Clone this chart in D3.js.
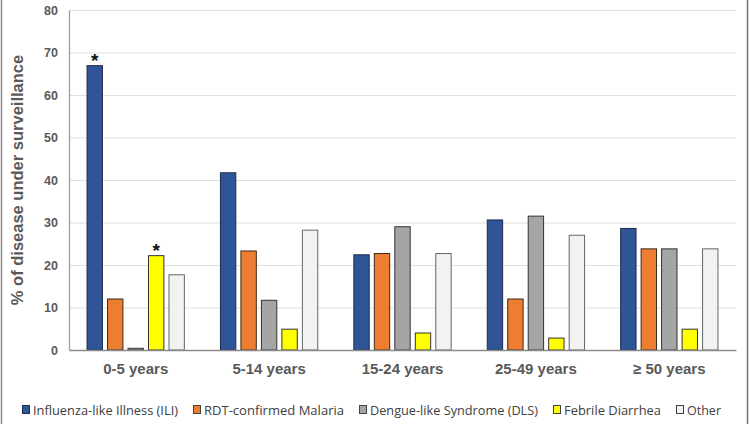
<!DOCTYPE html>
<html><head><meta charset="utf-8">
<script src="https://cdn.jsdelivr.net/npm/d3@7"></script>
<style>
body{margin:0;background:#fff;}
svg{display:block;}
</style></head>
<body>
<svg id="chart" width="749" height="424"></svg>
<script>
const categories = ["0-5 years","5-14 years","15-24 years","25-49 years","\u2265 50 years"];
const seriesNames = ["Influenza-like Illness (ILI)","RDT-confirmed Malaria","Dengue-like Syndrome (DLS)","Febrile Diarrhea","Other"];
const ili      = [66.9, 41.7, 22.4, 30.6, 28.6];
const malaria  = [12.0, 23.3, 22.7, 12.0, 23.8];
const dls      = [0.4, 11.7, 29.0, 31.5, 23.8];
const diarrhea = [22.2, 4.9, 4.0, 2.8, 4.9];
const other    = [17.7, 28.2, 22.7, 27.0, 23.8];
const yTicks = [0,10,20,30,40,50,60,70,80];
const significant = [["0-5 years","Influenza-like Illness (ILI)"],["0-5 years","Febrile Diarrhea"]];

const seriesValues = [ili, malaria, dls, diarrhea, other];
const fills   = ["#2F5597","#ED7D31","#A5A5A5","#FFFF00","#F2F2F2"];
const strokes = ["#1c2c4c","#3a2a1a","#333333","#333333","#666666"];

const svg = d3.select("#chart");
const m = {left:69, right:13, top:10, bottom:74};
const W = 749, H = 424;
const x0 = d3.scaleBand().domain(categories).range([m.left, W-m.right]).paddingInner(0.263).paddingOuter(0.1315);
const x1 = d3.scaleBand().domain(seriesNames).range([0, x0.bandwidth()]).paddingInner(0.2).paddingOuter(0);
const y = d3.scaleLinear().domain([0,80]).range([H-m.bottom, m.top]);

// border lines
svg.append("line").attr("x1",1.5).attr("x2",1.5).attr("y1",0).attr("y2",H).attr("stroke","#8c8c8c").attr("stroke-width",1.5);
svg.append("line").attr("x1",747.5).attr("x2",747.5).attr("y1",0).attr("y2",H).attr("stroke","#707070").attr("stroke-width",1.5);

// gridlines
svg.append("g").selectAll("line").data(yTicks.filter(d=>d>0)).join("line")
  .attr("x1",m.left).attr("x2",W-m.right)
  .attr("y1",d=>y(d)+0.5).attr("y2",d=>y(d)+0.5)
  .attr("stroke","#e0e0e0").attr("stroke-width",1.2);

// y axis
const yAxis = svg.append("g").attr("transform",`translate(${m.left},0)`)
  .call(d3.axisLeft(y).tickValues(yTicks).tickSize(0).tickPadding(11));
yAxis.select(".domain").attr("stroke","#9a9a9a").attr("stroke-width",1.2);
yAxis.selectAll("text").attr("font-family","Liberation Sans, Arial, sans-serif").attr("font-weight","bold")
  .attr("font-size","12.5px").attr("fill","#595959");

// bars
const groups = svg.append("g").selectAll("g").data(categories).join("g")
  .attr("transform",d=>`translate(${x0(d)},0)`);
groups.selectAll("rect").data((c,ci)=>seriesNames.map((s,si)=>({c,s,si,v:seriesValues[si][ci]}))).join("rect")
  .attr("x",d=>x1(d.s)+0.5).attr("width",x1.bandwidth()-1)
  .attr("y",d=>y(d.v)).attr("height",d=>y(0)-y(d.v))
  .attr("fill",d=>fills[d.si]).attr("stroke",d=>strokes[d.si]).attr("stroke-width",1);

// x axis
const xAxis = svg.append("g").attr("transform",`translate(0,${y(0)})`)
  .call(d3.axisBottom(x0).tickSize(0).tickPadding(13));
xAxis.select(".domain").attr("stroke","#8a8a8a").attr("stroke-width",1.5);
xAxis.selectAll("text").attr("font-family","Liberation Sans, Arial, sans-serif").attr("font-weight","bold")
  .attr("font-size","15px").attr("fill","#595959");

// asterisks
svg.append("g").selectAll("text").data(significant).join("text")
  .attr("x",d=>x0(d[0])+x1(d[1])+x1.bandwidth()/2)
  .attr("y",d=>y(seriesValues[seriesNames.indexOf(d[1])][categories.indexOf(d[0])])+1)
  .attr("text-anchor","middle").attr("font-family","Liberation Sans, Arial, sans-serif")
  .attr("font-weight","bold").attr("font-size","19px").attr("fill","#111").text("*");

// y title
svg.append("text").attr("transform",`translate(23,${(y(0)+y(80))/2}) rotate(-90)`)
  .attr("text-anchor","middle").attr("font-family","Liberation Sans, Arial, sans-serif")
  .attr("font-weight","bold").attr("font-size","16.5px").attr("fill","#595959")
  .text("% of disease under surveillance");

// legend
const targetW = [145,140,168,97,34];
const leg = svg.append("g").attr("transform","translate(22,410)");
let lx = 0;
seriesNames.forEach((s,i)=>{
  const g = leg.append("g").attr("transform",`translate(${lx},0)`);
  g.append("rect").attr("x",0.5).attr("y",-4.5).attr("width",7).attr("height",8)
    .attr("fill",fills[i]).attr("stroke",i===0?"#1c2c4c":"#444").attr("stroke-width",1);
  const t = g.append("text").attr("x",11).attr("y",4.5).attr("font-family","Open Sans, sans-serif")
    .attr("font-size","12.5px").attr("fill","#404040").text(s);
  t.attr("textLength",targetW[i]).attr("lengthAdjust","spacingAndGlyphs");
  lx += 11 + targetW[i] + 15;
});
</script>
</body></html>
